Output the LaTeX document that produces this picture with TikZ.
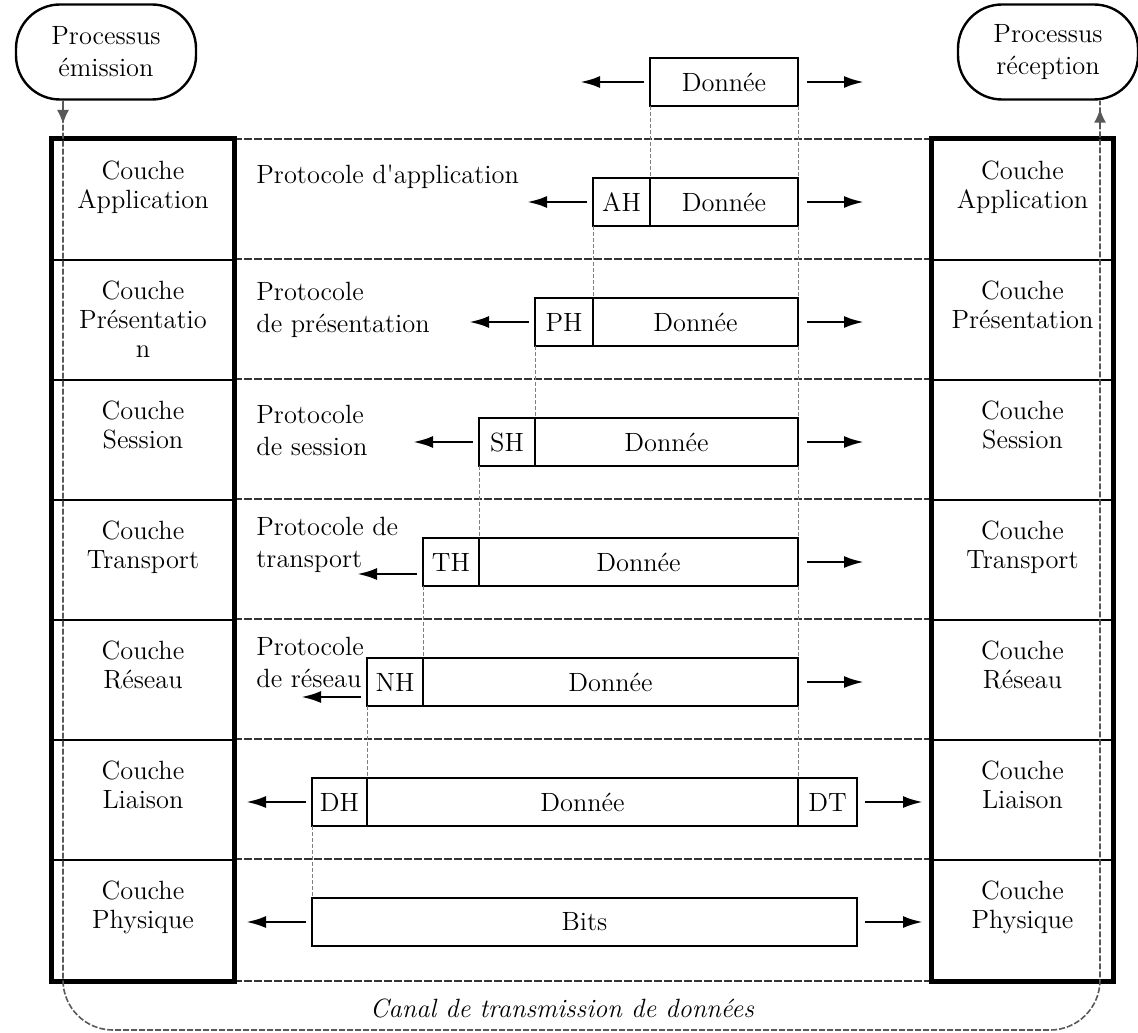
\documentclass[tikz,border=0pt]{standalone}
\usepackage{tikz}
\usetikzlibrary{arrows.meta, positioning}

\begin{document}
\begin{tikzpicture}[x=0.5pt, y=-0.5pt,
    every node/.style={font=\fontsize{13.2pt}{16pt}\selectfont},
    proc/.style={draw, line width=1.2pt, rounded corners=22pt, minimum width=90pt, minimum height=47.5pt, align=center},
    cell/.style={draw, line width=1.3pt, minimum width=90pt, minimum height=60pt, inner sep=0pt},
    couche/.style={anchor=north, align=center, inner sep=0pt, font=\fontsize{13.2pt}{14.5pt}\selectfont},
    proto/.style={anchor=west, align=left, inner sep=0pt},
    pdu/.style={draw, fill=white, line width=1.2pt, minimum height=24pt, inner sep=0pt, outer sep=0pt},
    arr/.style={line width=1.4pt, -{Latex[length=10pt, width=6pt]}},
    sep/.style={line width=1pt, dash pattern=on 4pt off 1pt, black!80},
    guide/.style={line width=0.5pt, dash pattern=on 2pt off 1pt, gray},
    chan/.style={line width=0.8pt, dash pattern=on 3pt off 1pt, gray!70!black}
]
\useasboundingbox (0,0) rectangle (1138,1032);

% Processus
\node[proc] (emi) at (106,52) {Processus\\émission};
\node[proc] (rec) at (1048,52) {Processus\\réception};

% Piles de couches
\foreach \k/\lt/\rt in {1/Application/Application, 2/{Présentatio\\n}/Présentation,
    3/Session/Session, 4/Transport/Transport, 5/Réseau/Réseau,
    6/Liaison/Liaison, 7/Physique/Physique} {
    \node[cell] (ls\k) at (143,{80+120*\k}) {};
    \node[couche] (lt\k) at ([yshift=-11pt]ls\k.north) {Couche\\\lt};
    \node[cell] (rs\k) at (1022.5,{80+120*\k}) {};
    \node[couche] (rt\k) at ([yshift=-11pt]rs\k.north) {Couche\\\rt};
    \draw[sep] (ls\k.north east) -- (rs\k.north west);
}
\draw[sep] (ls7.south east) -- (rs7.south west);
\draw[line width=2.5pt] (ls1.north west) rectangle (ls7.south east);
\draw[line width=2.5pt] (rs1.north west) rectangle (rs7.south east);

% Canal
\coordinate (cbl) at (63,1030);
\coordinate (cbr) at (1100,1030);
\draw[chan, rounded corners=25pt] (emi.south -| cbl) -- (cbl) -- (cbr) -- (rec.south -| cbr);
\coordinate (ea) at (63,124);
\coordinate (ra) at (1100,124);
\draw[gray!70!black, line width=0.8pt, -{Latex[length=7pt, width=6pt]}] (emi.south -| cbl) -- (ea);
\draw[gray!70!black, line width=0.8pt, -{Latex[length=7pt, width=6pt]}, shorten >=4pt] (ra) -- (rec.south -| cbr);
\node[font={\fontsize{13.2pt}{16pt}\selectfont\itshape}] (canal) at (562,1008) {Canal de transmission de données};

% Protocoles
\node[proto] (p1) at (256,177) {Protocole d\textquotesingle application};
\node[proto] (p2) at (256,310) {Protocole\\de présentation};
\node[proto] (p3) at (256,430) {Protocole\\de session};
\node[proto] (p4) at (256,545) {Protocole de\\transport};
\node[proto] (p5) at (256,662) {Protocole\\de réseau};

% Unites de donnees
\node[pdu, minimum width=74pt] (d0) at (724,82) {Donnée};
\foreach \k/\h/\xl/\xm in {1/AH/593/650, 2/PH/535/593, 3/SH/479/535, 4/TH/423/479, 5/NH/367/423} {
    \node[pdu, minimum width={(\xm-\xl)*0.5pt}] (h\k) at ({(\xl+\xm)/2},{82+120*\k}) {\h};
    \node[pdu, minimum width={(798-\xm)*0.5pt}, right=0pt of h\k] (d\k) {Donnée};
}
\node[pdu, minimum width=27.5pt] (h6) at (339.5,802) {DH};
\node[pdu, minimum width=215.5pt, right=0pt of h6] (d6) {Donnée};
\node[pdu, minimum width=29.5pt, right=0pt of d6] (t6) {DT};
\node[pdu, minimum width=272.5pt] (d7) at (584.5,922) {Bits};

% Guides
\draw[guide] (d0.south west) -- (d1.north west);
\foreach \a/\b in {1/2, 2/3, 3/4, 4/5, 5/6, 6/7}
    \draw[guide] (h\a.south west) -- (d\b.north west);
\foreach \a/\b in {0/1, 1/2, 2/3, 3/4, 4/5, 5/6}
    \draw[guide] (d\a.south east) -- (d\b.north east);

% Fleches
\coordinate (la0) at ([xshift=-35pt]d0.west);
\draw[arr, shorten <=3pt] (d0.west) -- (la0);
\foreach \k/\dy in {1/0, 2/0, 3/0, 4/-6, 5/-7.5, 6/0} {
    \coordinate (la\k) at ([xshift=-33pt, yshift=\dy pt]h\k.west);
    \draw[arr, shorten <=3pt] (h\k.west |- la\k) -- (la\k);
}
\coordinate (la7) at ([xshift=-33pt]d7.west);
\draw[arr, shorten <=3pt] (d7.west) -- (la7);
\foreach \k in {0,...,5} {
    \coordinate (ra\k) at ([xshift=33pt]d\k.east);
    \draw[arr, shorten <=4.5pt] (d\k.east) -- (ra\k);
}
\coordinate (ra6) at ([xshift=33pt]t6.east);
\draw[arr, shorten <=4pt] (t6.east) -- (ra6);
\coordinate (ra7) at ([xshift=33pt]d7.east);
\draw[arr, shorten <=4pt] (d7.east) -- (ra7);

\end{tikzpicture}
\end{document}
